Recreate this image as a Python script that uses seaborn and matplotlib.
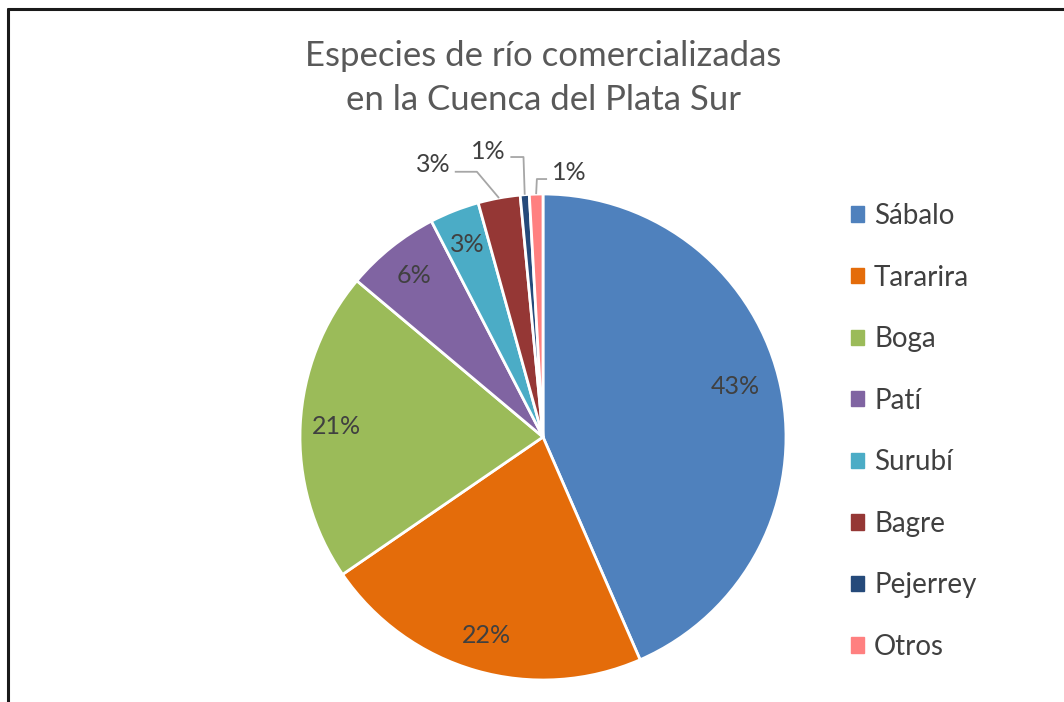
import numpy as np
import matplotlib
matplotlib.use("Agg")
import matplotlib.pyplot as plt
from matplotlib.lines import Line2D
import seaborn as sns

# ---- data ----
species = ["Sábalo", "Tararira", "Boga", "Patí", "Surubí", "Bagre", "Pejerrey", "Otros"]
shares = [43.5, 22.0, 20.7, 6.3, 3.3, 2.8, 0.6, 0.9]
pct_labels = ["43%", "22%", "21%", "6%", "3%", "3%", "1%", "1%"]
colors = ["#4F81BD", "#E46C0A", "#9BBB59", "#8064A2", "#4BACC6", "#953735", "#254A7A", "#FF8080"]
title = "Especies de río comercializadas\nen la Cuenca del Plata Sur"

sns.set_theme(style="white")
plt.rcParams["font.family"] = ["Lato", "DejaVu Sans"]

fig = plt.figure(figsize=(10.64, 7.02), dpi=100)
fig.patch.set_facecolor("white")

W, H = 1064, 702
cx, cy, R = 543, 437, 243
ax = fig.add_axes([(cx - R) / W, (H - cy - R) / H, 2 * R / W, 2 * R / H])

wedges, _ = ax.pie(shares, colors=colors, startangle=90, counterclock=False,
                   radius=1.0, wedgeprops=dict(edgecolor="white", linewidth=2))
ax.set_xlim(-1, 1)
ax.set_ylim(-1, 1)
ax.set_aspect("equal")
ax.axis("off")

txt_color = "#404040"
lbl_fs = 18
# label layout: inside radius / angle nudge, outside offsets from wedge edge
inside_layout = {0: (0.82, 3.0)}
outside = {
    5: dict(lab=(-0.272, 0.136), elbow=(-0.091, 0.108), side=-1),
    6: dict(lab=(-0.149, 0.176), elbow=(-0.005, 0.155), side=-1),
    7: dict(lab=(0.135, 0.09), elbow=(0.003, 0.062), side=1),
}
for i, w in enumerate(wedges):
    mid_deg = (w.theta1 + w.theta2) / 2
    if i in outside:
        mid = np.deg2rad(mid_deg)
        o = outside[i]
        ex, ey = np.cos(mid), np.sin(mid)
        lx, ly = ex + o["lab"][0], ey + o["lab"][1]
        bx, by = ex + o["elbow"][0], ey + o["elbow"][1]
        hx = lx - o["side"] * 0.09
        ax.plot([ex, bx, hx], [ey, by, by], color="#A6A6A6", lw=1.3,
                clip_on=False, solid_capstyle="butt")
        ax.text(lx, ly, pct_labels[i], ha="center", va="center",
                fontsize=lbl_fs, color=txt_color, clip_on=False)
    else:
        r, nudge = inside_layout.get(i, (0.85, 0.0))
        mid = np.deg2rad(mid_deg + nudge)
        ax.text(r * np.cos(mid), r * np.sin(mid), pct_labels[i], ha="center",
                va="center", fontsize=lbl_fs, color=txt_color)

fig.text(cx / W, 1 - 78 / H, title, ha="center", va="center", fontsize=25,
         color="#595959", linespacing=1.45)

handles = [plt.Rectangle((0, 0), 1, 1, color=c) for c in colors]
leg = fig.legend(handles, species, loc="upper left",
                 bbox_to_anchor=(851 / W, 1 - 203 / H), frameon=False,
                 fontsize=20, handlelength=0.47, handleheight=0.47,
                 handletextpad=0.36, labelspacing=1.28, borderaxespad=0,
                 borderpad=0)
for t in leg.get_texts():
    t.set_color(txt_color)

# outer chart border (left and top edges visible)
bx0 = 8 / W
by0 = 1 - 9 / H
fig.add_artist(Line2D([bx0, bx0], [0, by0], color="#1A1A1A", lw=2.2,
                      transform=fig.transFigure))
fig.add_artist(Line2D([bx0, 1], [by0, by0], color="#1A1A1A", lw=2.2,
                      transform=fig.transFigure))

fig.savefig("out.png", dpi=100, facecolor="white")
